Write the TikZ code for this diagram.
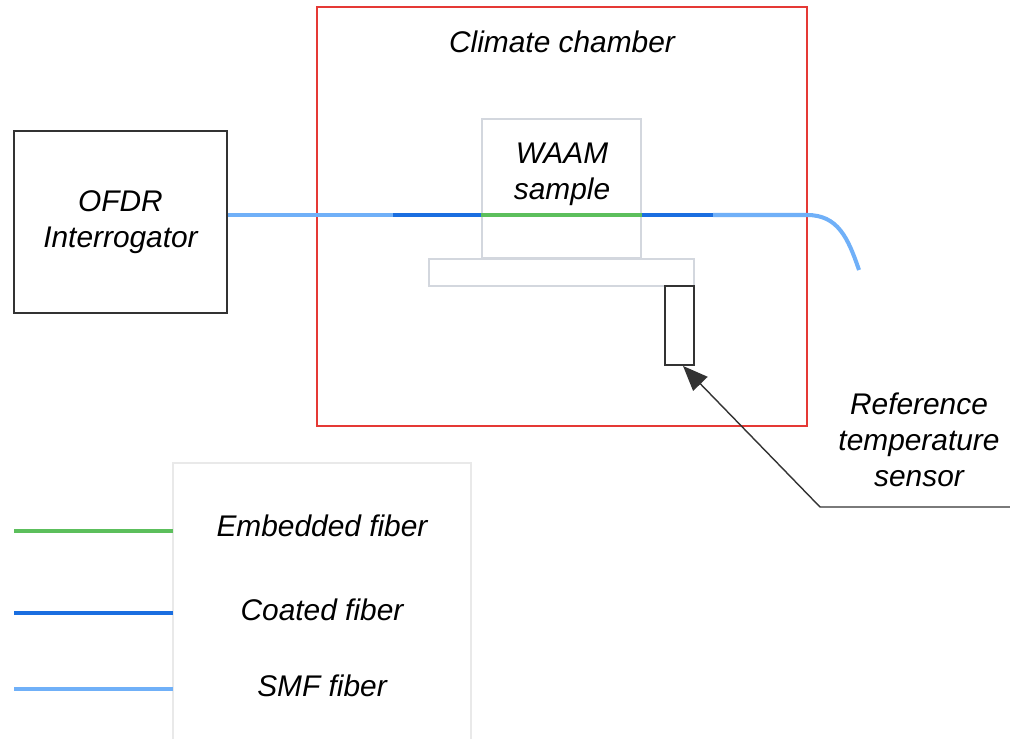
\documentclass[tikz,border=0pt]{standalone}
\usepackage{fontspec}
\setmainfont{Liberation Sans}
\usepackage{xcolor}
\definecolor{cRed}{HTML}{E53935}
\definecolor{cDark}{HTML}{333333}
\definecolor{cLight}{HTML}{D3D7DE}
\definecolor{cFaint}{HTML}{E9E9E9}
\definecolor{cEmb}{HTML}{5CBF5C}
\definecolor{cCoat}{HTML}{1A6EE0}
\definecolor{cSmf}{HTML}{70B0F8}
\usepackage{tikz}
\usetikzlibrary{positioning,arrows.meta}
\tikzset{
  node-box/.style={draw=cDark,line width=1.1pt,minimum width=4.26cm,minimum height=3.64cm,
    align=center},
  node-chamber/.style={draw=cRed,line width=1.1pt,minimum width=9.8cm,minimum height=8.38cm},
  node-part/.style={draw=cLight,line width=1.1pt},
  node-text/.style={align=center,font=\fontsize{17}{20.5}\selectfont\itshape},
  fiber-smf/.style={draw=cSmf,line width=2.3pt},
  fiber-coat/.style={draw=cCoat,line width=2.3pt},
  fiber-emb/.style={draw=cEmb,line width=2.3pt},
  arrow/.style={-{Triangle[length=5mm,width=4mm]},line width=0.8pt,draw=cDark},
}
\begin{document}
\begin{tikzpicture}[x=0.02cm,y=-0.02cm]
  \useasboundingbox (0,0) rectangle (1010,739);
  % boxes
  \node[node-box,node-text] (ofdr) at (120.5,222) {OFDR\\Interrogator};
  \node[node-chamber] (chamber) at (562,216.5) {};
  \node[node-text] (chlabel) at (562,42) {Climate chamber};
  \node[node-part,minimum width=3.18cm,minimum height=2.78cm] (waam) at (561.5,188.5) {};
  \node[node-text] (waamlabel) at (562,174) {WAAM\\sample};
  \node[node-part,minimum width=5.3cm,minimum height=0.54cm] (plate) at (561.5,272.5) {};
  \node[draw=cDark,line width=1.1pt,minimum width=0.58cm,minimum height=1.58cm] (sensor) at (679.5,325.5) {};
  % fiber
  \coordinate (c1) at (393,215);
  \coordinate (c2) at (713,215);
  \coordinate (bend) at (807,215);
  \coordinate (fend) at (859,270);
  \draw[fiber-smf] (ofdr.east |- c1) -- (c1);
  \draw[fiber-coat] (c1) -- (waam.west |- c1);
  \draw[fiber-emb] (waam.west |- c1) -- (waam.east |- c1);
  \draw[fiber-coat] (waam.east |- c1) -- (c2);
  \draw[fiber-smf] (c2) -- (bend) .. controls (838,215) and (848,238) .. (fend);
  % reference sensor
  \node[node-text] (reflabel) at (919,440) {Reference\\temperature\\sensor};
  \coordinate (lead) at (1010,507);
  \coordinate (knee) at (820,507);
  \draw[arrow] (lead) -- (knee) -- ([xshift=0.07cm]sensor.south);
  % legend
  \draw[cFaint,line width=0.8pt] (173,745) -- (173,463) -- (471,463) -- (471,745);
  \node[node-text] (lgemb) at (322,526) {Embedded fiber};
  \node[node-text] (lgcoat) at (322,610) {Coated fiber};
  \node[node-text] (lgsmf) at (322,686) {SMF fiber};
  \coordinate (emb0) at (14,531);
  \coordinate (coat0) at (14,613);
  \coordinate (smf0) at (14,689);
  \draw[fiber-emb] (emb0) -- (173,531);
  \draw[fiber-coat] (coat0) -- (173,613);
  \draw[fiber-smf] (smf0) -- (173,689);
\end{tikzpicture}
\end{document}
